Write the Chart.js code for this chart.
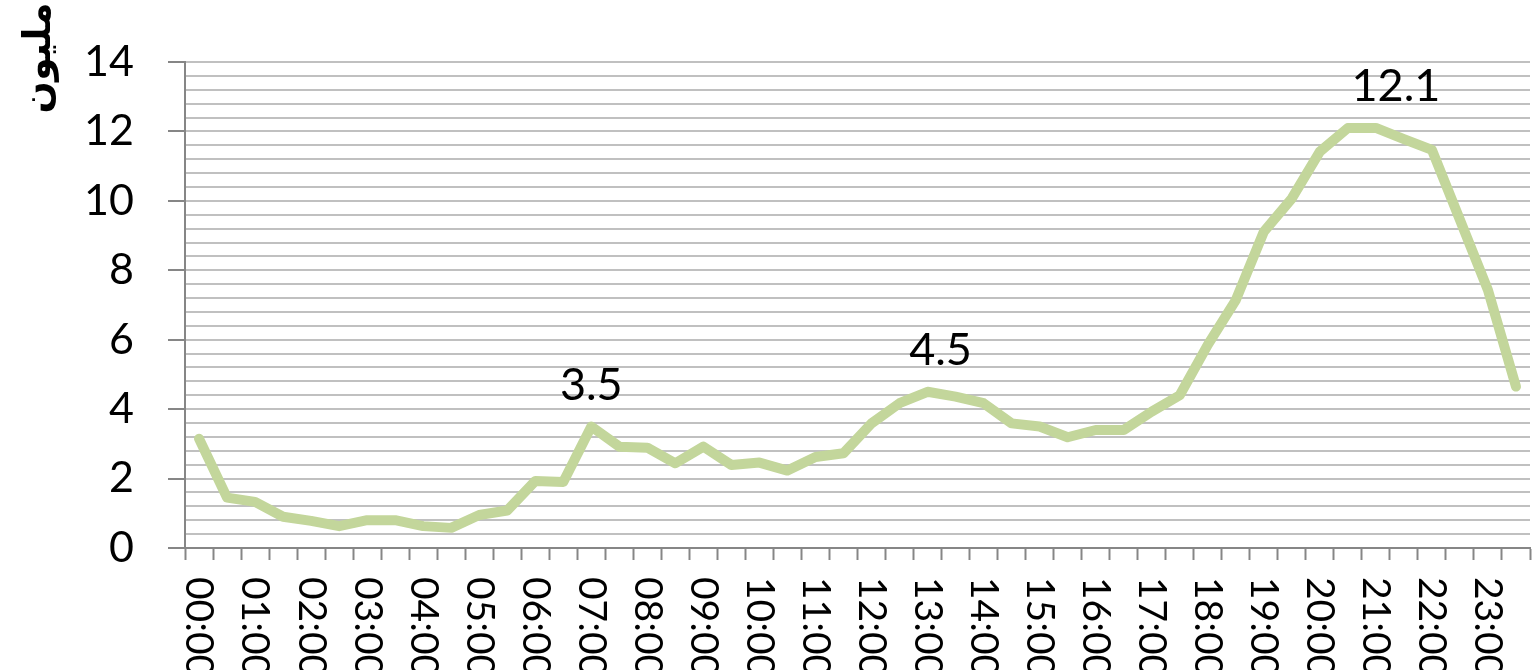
<!DOCTYPE html>
<html>
<head>
<meta charset="utf-8">
<script src="https://cdn.jsdelivr.net/npm/chart.js@4/dist/chart.umd.min.js"></script>
<style>
  body { margin: 0; background: #fff; }
  .chart-container { width: 1533px; height: 670px; }
</style>
</head>
<body>
<div class="chart-container"><canvas id="chart"></canvas></div>
<script>
const times = [
  "00:00", "00:30", "01:00", "01:30", "02:00", "02:30", "03:00", "03:30",
  "04:00", "04:30", "05:00", "05:30", "06:00", "06:30", "07:00", "07:30",
  "08:00", "08:30", "09:00", "09:30", "10:00", "10:30", "11:00", "11:30",
  "12:00", "12:30", "13:00", "13:30", "14:00", "14:30", "15:00", "15:30",
  "16:00", "16:30", "17:00", "17:30", "18:00", "18:30", "19:00", "19:30",
  "20:00", "20:30", "21:00", "21:30", "22:00", "22:30", "23:00", "23:30",
];

const viewers = [
  3.15, 1.45, 1.33, 0.9, 0.78, 0.63, 0.8, 0.8, 0.63, 0.58, 0.95, 1.08,
  1.93, 1.9, 3.5, 2.92, 2.89, 2.44, 2.92, 2.39, 2.46, 2.23, 2.62, 2.73,
  3.59, 4.17, 4.5, 4.36, 4.17, 3.59, 3.5, 3.19, 3.4, 3.4, 3.93, 4.4,
  5.85, 7.14, 9.11, 10.07, 11.42, 12.1, 12.1, 11.78, 11.47, 9.45, 7.43, 4.65,
];

const peakIndex = [14, 26, 42];
const peakText = ["3.5", "4.5", "12.1"];

const yTitle = "مليون";

const isMajor = (v) => Math.abs(v / 2 - Math.round(v / 2)) < 1e-6;

// hour labels are drawn turned clockwise, Chart.js only rotates the other way
const hourLabels = {
  id: "hourLabels",
  afterDraw(chart) {
    const { ctx } = chart;
    const xScale = chart.scales.x;
    ctx.save();
    ctx.font = "39px Lato";
    ctx.fillStyle = "#000";
    ctx.textAlign = "left";
    ctx.textBaseline = "middle";
    times.forEach((t, i) => {
      if (!t.endsWith(":00")) return;
      const x = xScale.getPixelForValue(i);
      ctx.save();
      ctx.translate(x, xScale.top + 29);
      ctx.rotate(Math.PI / 2);
      ctx.fillText(t, 0, 0);
      ctx.restore();
    });
    ctx.restore();
  },
};

const peakLabels = {
  id: "peakLabels",
  afterDatasetsDraw(chart) {
    const { ctx } = chart;
    const meta = chart.getDatasetMeta(0);
    const shift = [0, 13, 20];
    ctx.save();
    ctx.font = "45px Lato";
    ctx.fillStyle = "#000";
    ctx.textAlign = "center";
    ctx.textBaseline = "bottom";
    peakIndex.forEach((idx, k) => {
      const pt = meta.data[idx];
      ctx.fillText(peakText[k], pt.x + shift[k], pt.y - 19);
    });
    ctx.restore();
  },
};

const axisTitle = {
  id: "axisTitle",
  afterDraw(chart) {
    const { ctx } = chart;
    ctx.save();
    ctx.translate(40, 58);
    ctx.rotate(-Math.PI / 2);
    ctx.font = "bold 38px 'DejaVu Sans'";
    ctx.fillStyle = "#000";
    ctx.textAlign = "center";
    ctx.textBaseline = "middle";
    ctx.fillText(yTitle, 0, 0);
    ctx.restore();
  },
};

const chartRef = document.getElementById("chart").getContext("2d");

new Chart(chartRef, {
  type: "line",
  data: {
    labels: times,
    datasets: [
      {
        label: yTitle,
        data: viewers,
        borderColor: "#c3d69b",
        borderWidth: 10,
        borderCapStyle: "round",
        borderJoinStyle: "round",
        pointRadius: 0,
        tension: 0,
        fill: false,
      },
    ],
  },
  options: {
    responsive: true,
    maintainAspectRatio: false,
    animation: false,
    layout: {
      padding: { top: 62, right: 3, left: 0, bottom: 0 },
    },
    plugins: {
      legend: { display: false },
      tooltip: { enabled: false },
    },
    scales: {
      x: {
        offset: true,
        grid: {
          offset: true,
          drawOnChartArea: false,
          tickLength: 12,
          tickColor: "#868686",
          tickWidth: 2,
        },
        border: { color: "#868686", width: 2 },
        ticks: { display: false },
        afterFit(scale) {
          scale.height = 122;
        },
      },
      y: {
        min: 0,
        max: 14,
        grid: {
          color: "#c0c0c0",
          lineWidth: 2,
          tickLength: 17,
          tickWidth: 2,
          tickColor: (ctx) =>
            ctx.tick && isMajor(ctx.tick.value) ? "#868686" : "rgba(0,0,0,0)",
        },
        border: { color: "#868686", width: 2 },
        ticks: {
          stepSize: 0.4,
          autoSkip: false,
          padding: 34,
          color: "#000",
          font: { family: "Lato", size: 43 },
          callback: (v) => (isMajor(v) ? Math.round(v) : ""),
        },
        afterFit(scale) {
          scale.width = 185;
        },
      },
    },
  },
  plugins: [peakLabels, hourLabels, axisTitle],
});
</script>
</body>
</html>
